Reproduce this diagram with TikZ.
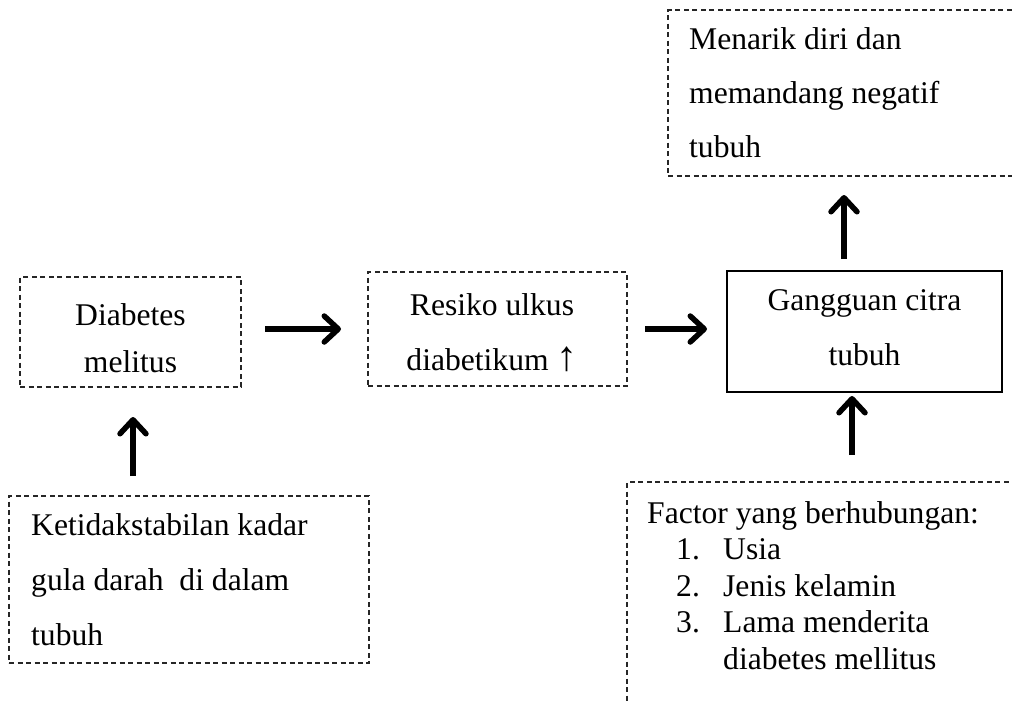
\documentclass[tikz,border=0pt]{standalone}
\usepackage{fontspec}
\setmainfont{Liberation Serif}
\usetikzlibrary{arrows.meta}
\begin{document}
\begin{tikzpicture}[x=1pt,y=-1pt,
  dbox/.style={draw=black!85, line width=1.2pt, dash pattern=on 5pt off 3.5pt, inner sep=0pt, outer sep=0pt},
  sbox/.style={draw=black, line width=1.4pt, inner sep=0pt, outer sep=0pt},
  txt/.style={inner sep=0pt, font=\fontsize{31.6}{#1}\selectfont},
  txt/.default=55,
  arr/.style={line width=5.5pt, -{Straight Barb[length=14pt,width=26pt,round]}},
]
\useasboundingbox (0,0) rectangle (1012,702);
\clip (0,0) rectangle (1012,702);

% boxes
\node[dbox, minimum width=221pt, minimum height=110pt] (dm) at (130.5,332) {};
\node[dbox, minimum width=259pt, minimum height=114pt] (rs) at (497.5,329) {};
\node[sbox, minimum width=275pt, minimum height=121pt] (gg) at (864.5,331.5) {};
\node[dbox, minimum width=360pt, minimum height=167pt] (kt) at (189,579.5) {};
\node[dbox, minimum width=382pt, minimum height=166pt] (mn) at (859,93) {};
\node[dbox, minimum width=423pt, minimum height=258pt] (fc) at (838.5,611) {};

% texts (base anchor = baseline of the last line)
\node[txt=47, align=center, anchor=base] (dmt) at (130.5,372) {Diabetes\\melitus};
\node[txt, align=center, anchor=base] (rst) at (492,370) {Resiko ulkus\\diabetikum {\fontsize{42}{42}\selectfont ↑}};
\node[txt, align=center, anchor=base] (ggt) at (864.5,365) {Gangguan citra\\tubuh};
\node[txt=54, align=left, anchor=base west] (mnt) at (689,157) {Menarik diri dan\\memandang negatif\\tubuh};
\node[txt, align=left, anchor=base west] (ktt) at (31,645) {Ketidakstabilan kadar\\gula darah\ \ di dalam\\tubuh};
\node[txt=36.5, align=left, anchor=base west] (fct) at (647,669) {Factor yang berhubungan:\\
\hspace*{29pt}\makebox[47pt][l]{1.}Usia\\
\hspace*{29pt}\makebox[47pt][l]{2.}Jenis kelamin\\
\hspace*{29pt}\makebox[47pt][l]{3.}Lama menderita\\
\hspace*{76pt}diabetes mellitus};

% connectors
\draw[arr, shorten <=24pt, shorten >=27pt] (dm.east |- rs.west) -- (rs.west);
\draw[arr, shorten <=18pt, shorten >=20pt] (rs.east) -- (rs.east -| gg.west);
\draw[arr, shorten <=20pt, shorten >=30pt] ([xshift=2.5pt]dm.south |- kt.north) -- ([xshift=2.5pt]dm.south);
\draw[arr, shorten <=12pt, shorten >=19pt] ([xshift=-20.5pt]gg.north) -- ([xshift=-20.5pt]gg.north |- mn.south);
\draw[arr, shorten <=27pt, shorten >=4pt] ([xshift=-12.5pt]gg.south |- fc.north) -- ([xshift=-12.5pt]gg.south);
\end{tikzpicture}
\end{document}
